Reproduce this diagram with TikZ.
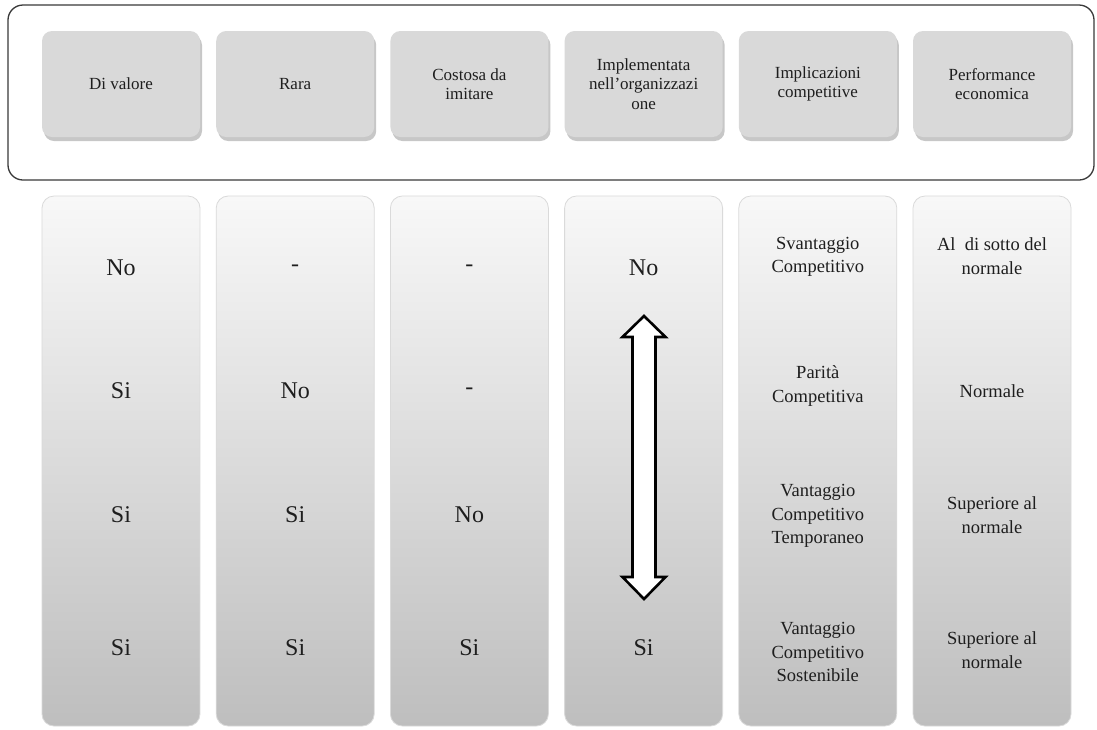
\documentclass[tikz,border=0pt]{standalone}
\usepackage{fontspec}
\setmainfont{Liberation Serif}
\definecolor{hdrgray}{HTML}{D9D9D9}
\definecolor{coltop}{HTML}{F8F8F8}
\definecolor{colbot}{HTML}{BEBEBE}
\definecolor{colline}{HTML}{DADADA}
\definecolor{framecol}{HTML}{3A3A3A}
\definecolor{txt}{HTML}{1E1E1E}
\begin{document}
\begin{tikzpicture}[x=1pt,y=-1pt,
  hdr/.style={rounded corners=10pt, fill=hdrgray, minimum width=158pt, minimum height=106pt, inner sep=2pt, align=center, text=txt, font=\fontsize{17}{19.5}\selectfont},
  hshadow/.style={rounded corners=10pt, fill=black, opacity=0.22},
  colbox/.style={rounded corners=12pt, top color=coltop, bottom color=colbot, draw=colline, line width=0.8pt, minimum width=158pt, minimum height=530pt, inner sep=0pt},
  ctext/.style={font=\fontsize{24}{28}\selectfont, text=txt, inner sep=1pt},
  stext/.style={align=center, font=\fontsize{18.5}{23.5}\selectfont, text=txt, inner sep=1pt},
  dblarrow/.style={draw=black, fill=white, line width=2.6pt, line join=miter}]
\useasboundingbox (0,0) rectangle (1097,729);
\fill[white] (0,0) rectangle (1097,729);
% outer frame
\draw[framecol, line width=1.3pt, rounded corners=15pt] (8,5) rectangle (1094,180);
% header boxes
\foreach \i/\t in {0/{Di valore},1/{Rara},2/{Costosa da\\imitare},3/{Implementata\\nell’organizzazi\\one},4/{Implicazioni\\competitive},5/{Performance\\economica}}{
  \pgfmathsetmacro{\cx}{121+174.2*\i}
  \fill[hshadow] (\cx-77,35) rectangle (\cx+81,141);
  \node[hdr] (h\i) at (\cx,84) {\t};
}
% columns
\foreach \i in {0,...,5}{
  \pgfmathsetmacro{\cx}{121+174.2*\i}
  \node[colbox] (c\i) at (\cx,461) {};
}
% column 1
\node[ctext] (a1) at (c0.center |- 0,268) {No};
\node[ctext] (a2) at (c0.center |- 0,391) {Si};
\node[ctext] (a3) at (c0.center |- 0,515) {Si};
\node[ctext] (a4) at (c0.center |- 0,648) {Si};
% column 2
\node[ctext] (b1) at (c1.center |- 0,268) {-};
\node[ctext] (b2) at (c1.center |- 0,391) {No};
\node[ctext] (b3) at (c1.center |- 0,515) {Si};
\node[ctext] (b4) at (c1.center |- 0,648) {Si};
% column 3
\node[ctext] (d1) at (c2.center |- 0,268) {-};
\node[ctext] (d2) at (c2.center |- 0,391) {-};
\node[ctext] (d3) at (c2.center |- 0,515) {No};
\node[ctext] (d4) at (c2.center |- 0,648) {Si};
% column 4
\node[ctext] (e1) at (c3.center |- 0,268) {No};
\node[ctext] (e4) at (c3.center |- 0,648) {Si};
\path[dblarrow] (644,316) -- (665.5,337) -- (655.5,337) -- (655.5,577) -- (665.5,577) -- (644,599)
  -- (622.5,577) -- (632.5,577) -- (632.5,337) -- (622.5,337) -- cycle;
% column 5
\node[stext] (f1) at (c4.center |- 0,257) {Svantaggio\\Competitivo};
\node[stext] (f2) at (c4.center |- 0,386) {Parità\\Competitiva};
\node[stext] (f3) at (c4.center |- 0,516) {Vantaggio\\Competitivo\\Temporaneo};
\node[stext] (f4) at (c4.center |- 0,652) {Vantaggio\\Competitivo\\Sostenibile};
% column 6
\node[stext] (g1) at (c5.center |- 0,256) {Al\ \ di sotto del\\normale};
\node[stext] (g2) at (c5.center |- 0,391) {Normale};
\node[stext] (g3) at (c5.center |- 0,515) {Superiore al\\normale};
\node[stext] (g4) at (c5.center |- 0,650) {Superiore al\\normale};
\end{tikzpicture}
\end{document}
